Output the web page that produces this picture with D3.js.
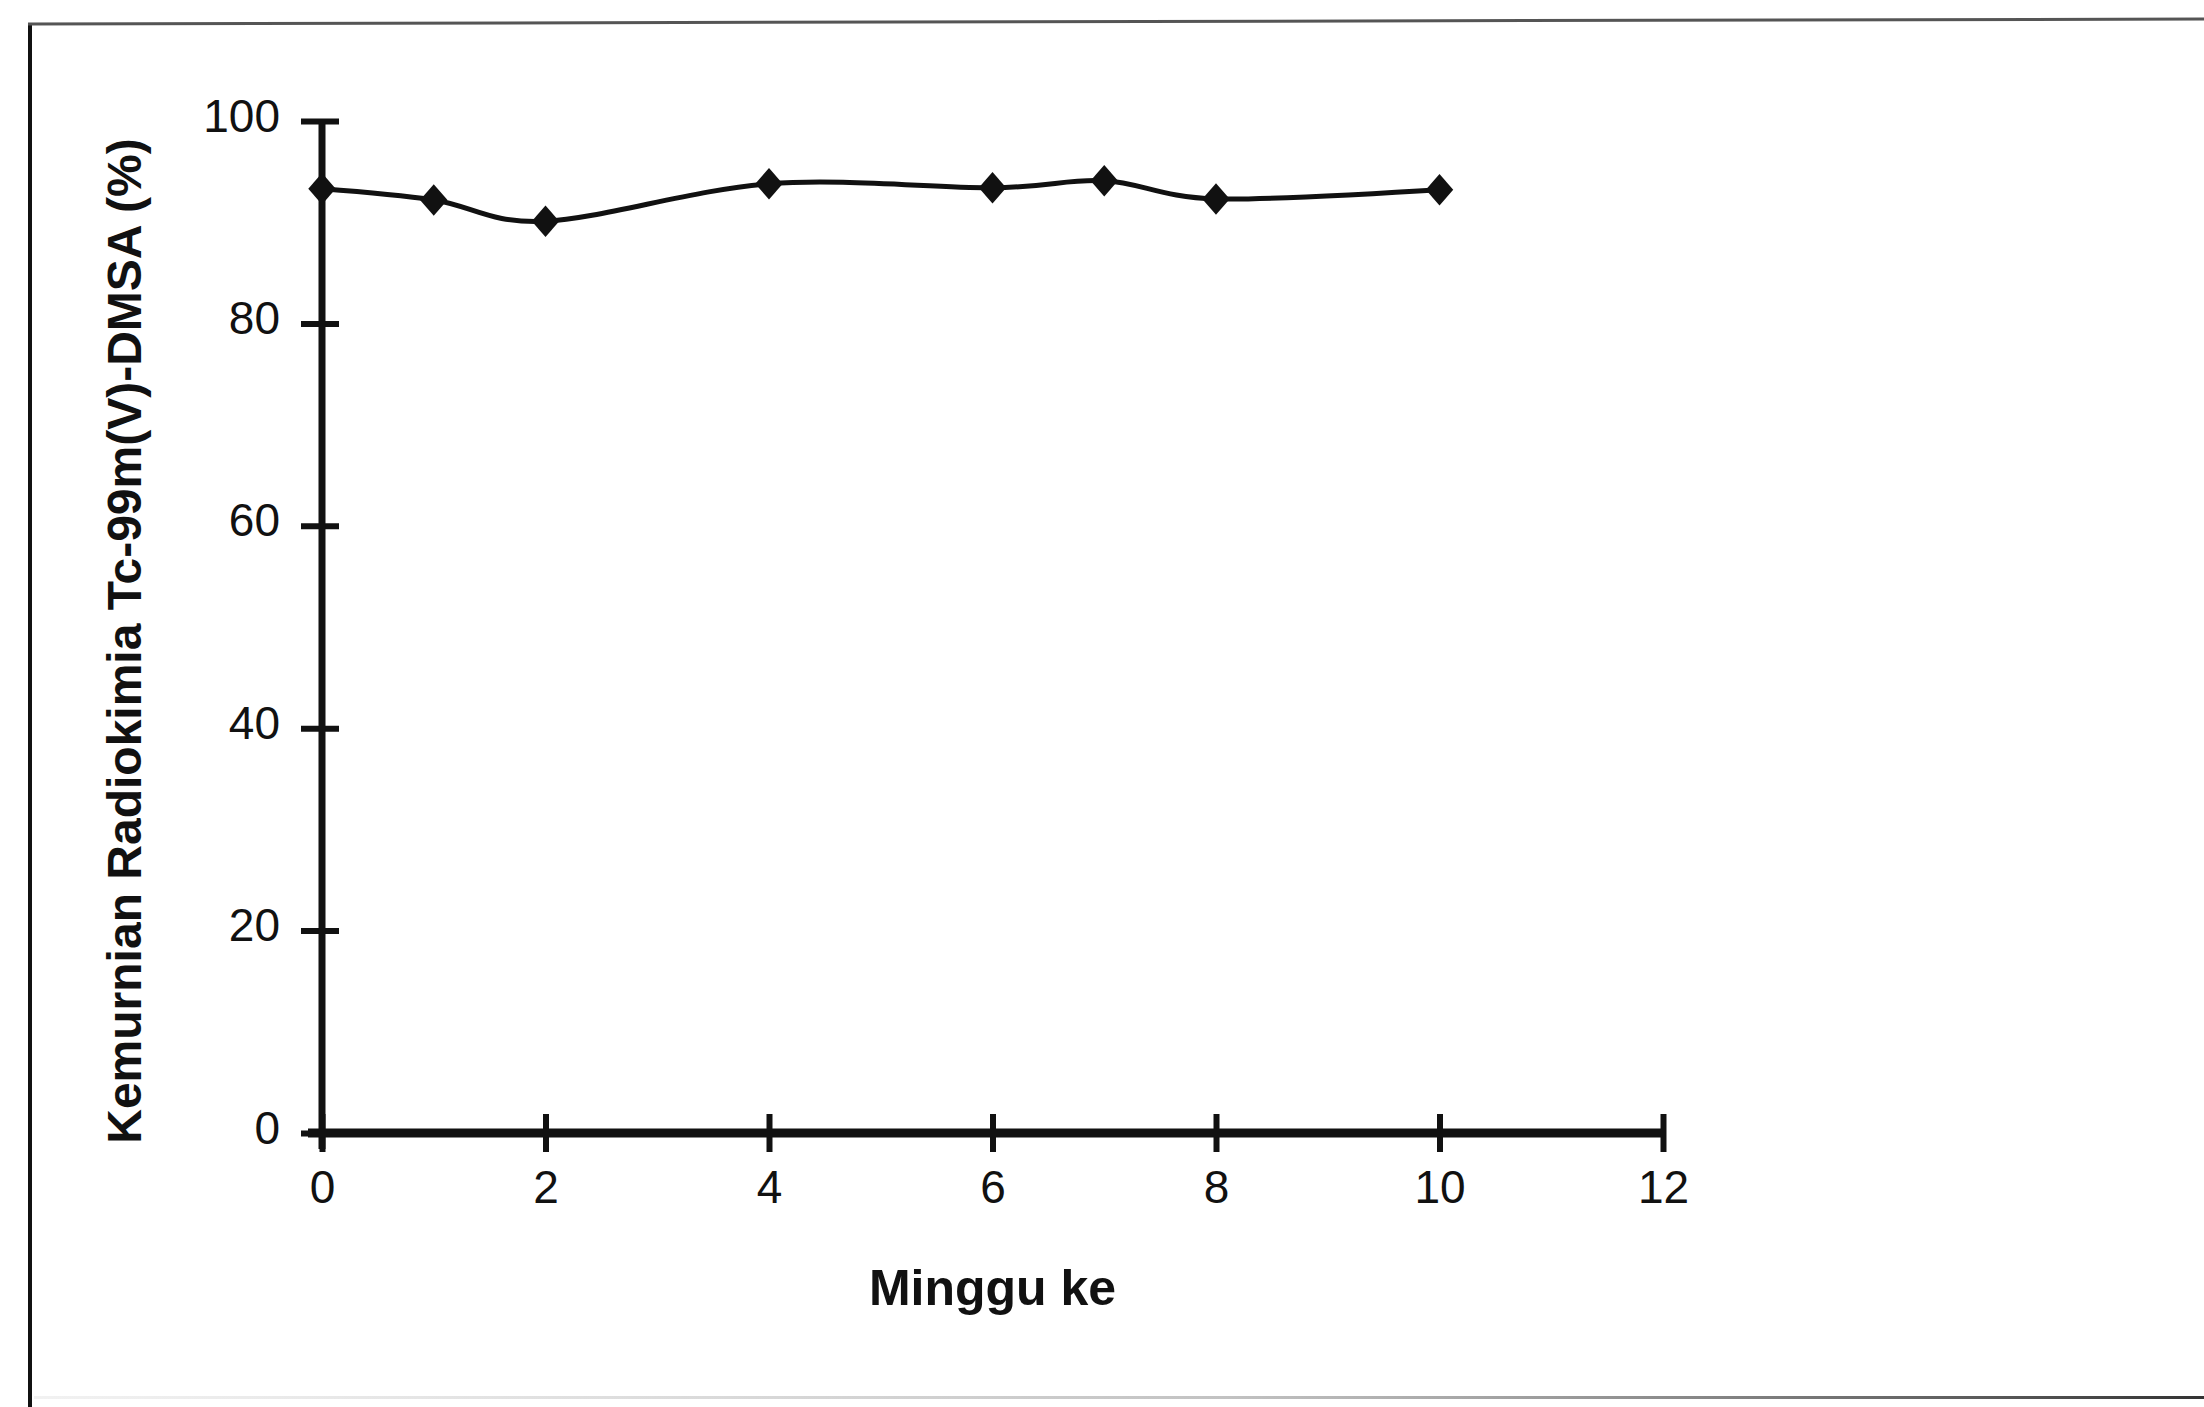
<!DOCTYPE html>
<html>
<head>
<meta charset="utf-8">
<script src="https://cdn.jsdelivr.net/npm/d3@7"></script>
<style>
  html, body { margin: 0; padding: 0; background: #fff; }
  svg { display: block; }
  text { font-family: "Liberation Sans", Arial, sans-serif; fill: #111; }
</style>
</head>
<body>
<svg id="chart" width="2204" height="1407"></svg>
<script>
"use strict";

// data
const weeks = [0, 1, 2, 4, 6, 7, 8, 10];
const purity = [93.3, 92.2, 90.1, 93.8, 93.4, 94.1, 92.3, 93.2];
const xTicks = [0, 2, 4, 6, 8, 10, 12];
const yTicks = [0, 20, 40, 60, 80, 100];
const xTitle = "Minggu ke";
const yTitle = "Kemurnian Radiokimia Tc-99m(V)-DMSA (%)";

function translate(x, y) {
  return "translate(" + x + "," + y + ")";
}

const svg = d3.select("#chart");
const W = 2204, H = 1407;

// scanned page frame
const grad = svg.append("defs").append("linearGradient")
  .attr("id", "fade").attr("x1", "0%").attr("x2", "100%");
grad.append("stop").attr("offset", "0%").attr("stop-color", "#bbb").attr("stop-opacity", 0.2);
grad.append("stop").attr("offset", "55%").attr("stop-color", "#999").attr("stop-opacity", 0.6);
grad.append("stop").attr("offset", "100%").attr("stop-color", "#333").attr("stop-opacity", 1);

svg.append("line")
  .attr("x1", 30).attr("y1", 24).attr("x2", 30).attr("y2", H)
  .attr("stroke", "#111").attr("stroke-width", 4);
svg.append("line")
  .attr("x1", 28).attr("y1", 24).attr("x2", W).attr("y2", 19)
  .attr("stroke", "#555").attr("stroke-width", 3);
svg.append("rect")
  .attr("x", 34).attr("y", 1396).attr("width", W - 34).attr("height", 3)
  .attr("fill", "url(#fade)");

// scales
const x = d3.scaleLinear().domain([0, 12]).range([322, 1663]);
const y = d3.scaleLinear().domain([0, 100]).range([1133, 121]);

// y axis
const gy = svg.append("g")
  .attr("transform", translate(x(0), 0))
  .call(d3.axisLeft(y).tickValues(yTicks).tickSize(20).tickPadding(22));
gy.select(".domain").remove();
gy.selectAll(".tick line")
  .attr("x1", -21).attr("x2", 17)
  .attr("stroke", "#111").attr("stroke-width", 6);
gy.selectAll(".tick text")
  .attr("x", -42)
  .attr("dy", "0.22em")
  .style("font-size", "46px")
  .attr("fill", "#111");
gy.attr("font-family", null).attr("font-size", null);
svg.append("line")
  .attr("x1", x(0)).attr("x2", x(0))
  .attr("y1", y(100)).attr("y2", y(0) + 16)
  .attr("stroke", "#111").attr("stroke-width", 7);

// x axis
const gx = svg.append("g")
  .attr("transform", translate(0, y(0)))
  .call(d3.axisBottom(x).tickValues(xTicks).tickSize(18));
gx.select(".domain").remove();
gx.selectAll(".tick line")
  .attr("y1", -19).attr("y2", 19)
  .attr("stroke", "#111").attr("stroke-width", 6);
gx.selectAll(".tick text")
  .attr("y", 70)
  .attr("dy", 0)
  .style("font-size", "46px")
  .attr("fill", "#111");
gx.attr("font-family", null).attr("font-size", null);
svg.append("line")
  .attr("x1", x(0) - 14).attr("x2", x(12))
  .attr("y1", y(0)).attr("y2", y(0))
  .attr("stroke", "#111").attr("stroke-width", 9);

// titles
svg.append("text")
  .attr("text-anchor", "middle")
  .attr("transform", translate(x(6), 1305))
  .style("font-size", "50px")
  .style("font-weight", "bold")
  .text(xTitle);

svg.append("text")
  .attr("text-anchor", "middle")
  .attr("transform", translate(141, 641) + " rotate(-90)")
  .style("font-size", "48px")
  .style("font-weight", "bold")
  .text(yTitle);

// series
const pts = weeks.map((w, i) => [w, purity[i]]);
const line = d3.line()
  .x((d) => x(d[0]))
  .y((d) => y(d[1]))
  .curve(d3.curveCardinal.tension(0));

svg.append("path")
  .datum(pts)
  .attr("d", line)
  .attr("fill", "none")
  .attr("stroke", "#111")
  .attr("stroke-width", 5);

const diamond = d3.symbol().type(d3.symbolDiamond2).size(480);
svg.append("g").selectAll("path")
  .data(pts)
  .enter()
  .append("path")
  .attr("d", diamond)
  .attr("transform", (d) => translate(x(d[0]), y(d[1])) + " scale(1,1.15)")
  .attr("fill", "#111");
</script>
</body>
</html>
